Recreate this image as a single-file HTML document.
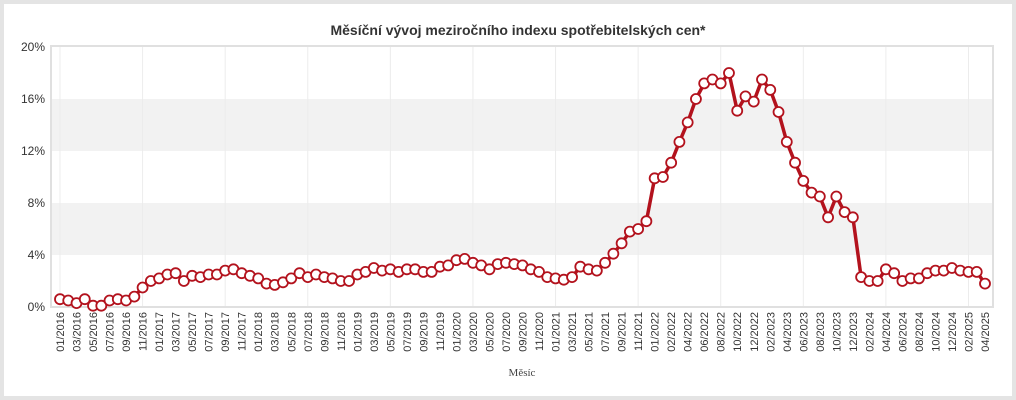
<!DOCTYPE html>
<html><head><meta charset="utf-8"><style>
html,body{margin:0;padding:0;background:#e4e4e4;}
#card{position:absolute;left:4px;top:4px;width:1008px;height:392px;background:#fff;}
svg{position:absolute;left:0;top:0;font-family:"Liberation Sans",sans-serif;}
</style></head><body>
<div id="card"></div>
<svg id="chart" width="1016" height="400">
<text x="518" y="35" text-anchor="middle" font-size="14" font-weight="bold" fill="#333">Měsíční vývoj meziročního indexu spotřebitelských cen*</text>
<g id="bands"></g><g id="grid"></g><g id="yticks"></g><g id="xticks"></g>
<g id="series"></g>
<text x="522" y="376" text-anchor="middle" font-size="11" font-family="Liberation Serif,serif" fill="#444">Měsíc</text>
</svg>
<script>
const values = [
0.6,0.5,0.3,0.6,0.1,0.1,0.5,0.6,0.5,0.8,1.5,2.0,
2.2,2.5,2.6,2.0,2.4,2.3,2.5,2.5,2.8,2.9,2.6,2.4,
2.2,1.8,1.7,1.9,2.2,2.6,2.3,2.5,2.3,2.2,2.0,2.0,
2.5,2.7,3.0,2.8,2.9,2.7,2.9,2.9,2.7,2.7,3.1,3.2,
3.6,3.7,3.4,3.2,2.9,3.3,3.4,3.3,3.2,2.9,2.7,2.3,
2.2,2.1,2.3,3.1,2.9,2.8,3.4,4.1,4.9,5.8,6.0,6.6,
9.9,10.0,11.1,12.7,14.2,16.0,17.2,17.5,17.2,18.0,15.1,16.2,15.8,
17.5,16.7,15.0,12.7,11.1,9.7,8.8,8.5,6.9,8.5,7.3,6.9,
2.3,2.0,2.0,2.9,2.6,2.0,2.2,2.2,2.6,2.8,2.8,3.0,
2.8,2.7,2.7,1.8];
const categories = [];
for(let y=2016;y<=2021;y++)for(let m=1;m<=12;m++)categories.push((m<10?'0':'')+m+'/'+y);
categories.push('01/2022');
categories.push('01/2022');
for(let y=2022;y<=2025;y++)for(let m=(y===2022?2:1);m<=(y===2025?4:12);m++)categories.push((m<10?'0':'')+m+'/'+y);
const yTicks = [0,4,8,12,16,20];
const NS='http://www.w3.org/2000/svg';
const L=51,R=993,T=47,B=307,x0=60,x1=985;
const n=values.length;
const xs=i=>x0+(x1-x0)*i/(n-1);
const ys=v=>B-(B-T)*v/20;
function mk(tag,attrs,parent){const e=document.createElementNS(NS,tag);for(const k in attrs)e.setAttribute(k,attrs[k]);document.getElementById(parent).appendChild(e);return e;}
[[4,8],[12,16]].forEach(b=>{
 const r=mk('rect',{x:L,y:ys(b[1]),width:R-L,height:ys(b[0])-ys(b[1]),fill:'#f2f2f2'},'bands');
 
 
});
for(let i=0;i<n;i+=10){
 const l=mk('line',{x1:xs(i),x2:xs(i),y1:T,y2:B,stroke:'#ececec','stroke-width':1},'grid');
 
 
}
const fr=mk('rect',{x:L,y:T-1,width:R-L,height:B-T+1,fill:'none',stroke:'#e0e0e0','stroke-width':2},'grid');


yTicks.forEach(t=>{
 const tx=mk('text',{x:45,y:ys(t)+4,'text-anchor':'end','font-size':12,fill:'#333'},'yticks');
 tx.textContent=t+'%';
 
 
});
for(let i=0;i<n;i+=2){
 const tx=mk('text',{x:0,y:0,'text-anchor':'end','font-size':11,fill:'#333',transform:`translate(${xs(i)+4},312) rotate(-90)`},'xticks');
 tx.textContent=categories[i]||'';
 
 
}
const pl=mk('polyline',{points:values.map((v,i)=>xs(i)+','+ys(v)).join(' '),fill:'none',stroke:'#b3121d','stroke-width':3.5,'stroke-linejoin':'round'},'series');


values.forEach((v,i)=>{
 const c=mk('circle',{cx:xs(i),cy:ys(v),r:5,fill:'#fff',stroke:'#b3121d','stroke-width':1.8},'series');
 
 
});
</script>
</body></html>
